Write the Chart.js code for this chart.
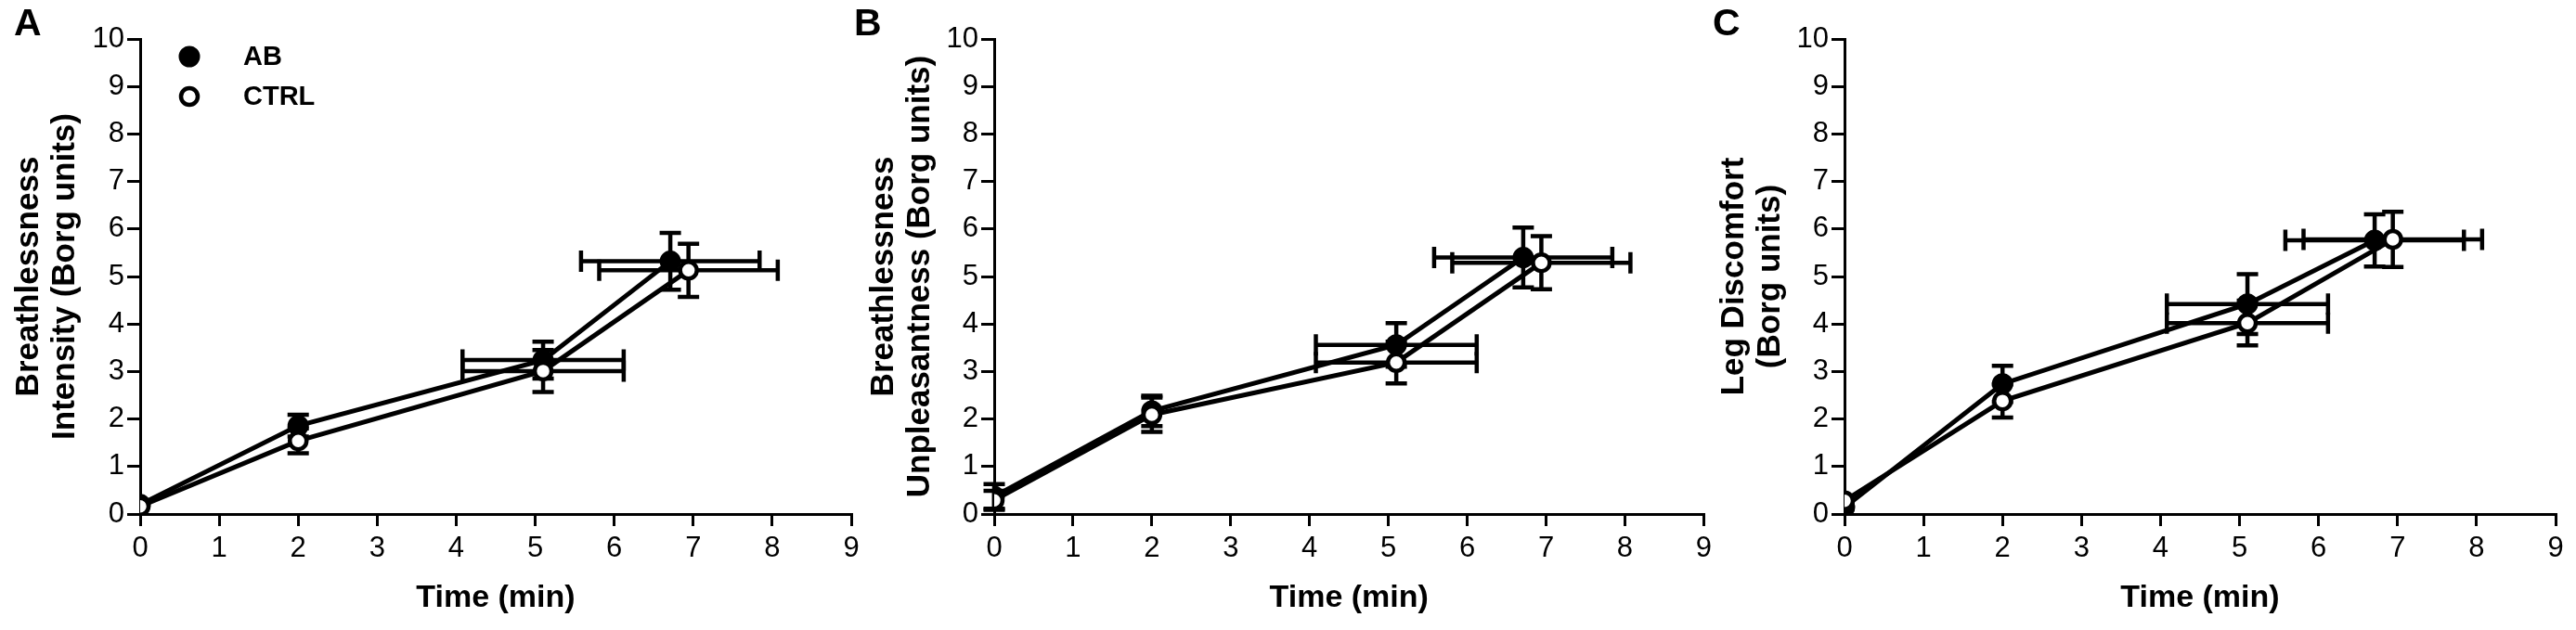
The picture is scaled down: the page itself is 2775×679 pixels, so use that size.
<!DOCTYPE html>
<html>
<head>
<meta charset="utf-8">
<title>Borg ratings</title>
<script src="https://cdn.jsdelivr.net/npm/chart.js@4.4.1/dist/chart.umd.min.js"></script>
<style>
html, body { margin: 0; padding: 0; background: #fff; }
#wrap { position: relative; width: 2775px; height: 679px; overflow: hidden; background: #fff; }
canvas { position: absolute; top: 0; }
</style>
</head>
<body>
<div id="wrap">
  <canvas id="chartA" width="935" height="679" style="left:0px"></canvas>
  <canvas id="chartB" width="935" height="679" style="left:915px"></canvas>
  <canvas id="chartC" width="940" height="679" style="left:1835px"></canvas>
</div>
<script>
// time (min) - same for the 3 panels
const timeAB = [0, 2, 5.1, 6.71];
const timeCTRL = [0, 2, 5.1, 6.94];
const timeSdAB = [0, 0, 1.02, 1.13];
const timeSdCTRL = [0, 0, 1.02, 1.13];

const xTicks = [0, 1, 2, 3, 4, 5, 6, 7, 8, 9];
const yTicks = [0, 1, 2, 3, 4, 5, 6, 7, 8, 9, 10];

// A : breathlessness intensity
const intensityAB = [0.2, 1.86, 3.24, 5.32];
const intensitySdAB = [0, 0.23, 0.39, 0.6];
const intensityCTRL = [0.16, 1.54, 3.01, 5.13];
const intensitySdCTRL = [0, 0.26, 0.44, 0.56];

// B : breathlessness unpleasantness
const unpleasantAB = [0.37, 2.17, 3.56, 5.4];
const unpleasantSdAB = [0.26, 0.32, 0.46, 0.63];
const unpleasantCTRL = [0.29, 2.09, 3.19, 5.29];
const unpleasantSdCTRL = [0.2, 0.36, 0.44, 0.56];

// C : leg discomfort
const legAB = [0.14, 2.74, 4.42, 5.76];
const legSdAB = [0, 0.38, 0.63, 0.55];
const legCTRL = [0.28, 2.38, 4.02, 5.78];
const legSdCTRL = [0, 0.35, 0.47, 0.58];

const FONT = "'Liberation Sans', Arial, Helvetica, sans-serif";

function toPoints(xs, ys) {
    return xs.map((x, i) => ({ x: x, y: ys[i] }));
}

// draws the SD bars (x and y) behind the markers
const errorBars = {
    id: 'errorBars',
    beforeDatasetsDraw(chart) {
        const ctx = chart.ctx;
        const xs = chart.scales.x;
        const ys = chart.scales.y;
        const cap = 11.5;
        ctx.save();
        ctx.strokeStyle = '#000';
        ctx.lineWidth = 4.5;
        ctx.lineCap = 'butt';
        chart.data.datasets.forEach(ds => {
            ds.data.forEach((p, i) => {
                const px = xs.getPixelForValue(p.x);
                const py = ys.getPixelForValue(p.y);
                const sy = ds.errY[i];
                const sx = ds.errX[i];
                if (sy > 0) {
                    const top = ys.getPixelForValue(p.y + sy);
                    const bot = ys.getPixelForValue(p.y - sy);
                    ctx.beginPath();
                    ctx.moveTo(px, top); ctx.lineTo(px, bot);
                    ctx.moveTo(px - cap, top); ctx.lineTo(px + cap, top);
                    ctx.moveTo(px - cap, bot); ctx.lineTo(px + cap, bot);
                    ctx.stroke();
                }
                if (sx > 0) {
                    const l = xs.getPixelForValue(p.x - sx);
                    const r = xs.getPixelForValue(p.x + sx);
                    ctx.beginPath();
                    ctx.moveTo(l, py); ctx.lineTo(r, py);
                    ctx.moveTo(l, py - cap); ctx.lineTo(l, py + cap);
                    ctx.moveTo(r, py - cap); ctx.lineTo(r, py + cap);
                    ctx.stroke();
                }
            });
        });
        ctx.restore();
    }
};

// panel letter + the small legend of panel A
const decor = {
    id: 'decor',
    afterDraw(chart, args, opts) {
        const ctx = chart.ctx;
        ctx.save();
        ctx.fillStyle = '#000';
        ctx.font = 'bold 41px ' + FONT;
        ctx.textAlign = 'left';
        ctx.textBaseline = 'alphabetic';
        ctx.fillText(opts.letter, opts.letterX, 38);
        if (opts.legend) {
            chart.data.datasets.forEach((ds, i) => {
                const cy = 61 + i * 43;
                ctx.beginPath();
                ctx.arc(204, cy, ds.pointRadius, 0, Math.PI * 2);
                ctx.fillStyle = ds.pointBackgroundColor;
                ctx.fill();
                ctx.lineWidth = ds.pointBorderWidth;
                ctx.strokeStyle = '#000';
                ctx.stroke();
                ctx.fillStyle = '#000';
                ctx.font = 'bold 29px ' + FONT;
                ctx.textBaseline = 'middle';
                ctx.fillText(ds.label, 262, cy + 1);
            });
        }
        ctx.restore();
    }
};

function makeChart(id, yAB, sdAB, yCTRL, sdCTRL, yTitle, leftW, rightPad, titlePad, letter, letterX, legend) {
    const ctx = document.getElementById(id);
    return new Chart(ctx, {
        type: 'scatter',
        data: {
            datasets: [
                {
                    label: 'AB',
                    data: toPoints(timeAB, yAB),
                    errX: timeSdAB,
                    errY: sdAB,
                    showLine: true,
                    borderColor: '#000',
                    borderWidth: 5,
                    pointRadius: 10,
                    pointBorderWidth: 3,
                    pointBackgroundColor: '#000',
                    pointBorderColor: '#000',
                    order: 1
                },
                {
                    label: 'CTRL',
                    data: toPoints(timeCTRL, yCTRL),
                    errX: timeSdCTRL,
                    errY: sdCTRL,
                    showLine: true,
                    borderColor: '#000',
                    borderWidth: 5,
                    pointRadius: 9,
                    pointBorderWidth: 4.5,
                    pointBackgroundColor: '#fff',
                    pointBorderColor: '#000',
                    order: 0
                }
            ]
        },
        options: {
            responsive: false,
            devicePixelRatio: 1,
            animation: false,
            layout: { padding: { top: 42, right: rightPad, bottom: 0, left: 0 } },
            plugins: {
                legend: { display: false },
                tooltip: { enabled: false },
                decor: { letter: letter, letterX: letterX, legend: legend }
            },
            scales: {
                x: {
                    type: 'linear',
                    min: 0,
                    max: 9,
                    afterBuildTicks: s => { s.ticks = xTicks.map(v => ({ value: v })); },
                    afterFit: s => { s.height = 125; },
                    ticks: { color: '#000', padding: 6, font: { family: FONT, size: 31 } },
                    grid: { drawOnChartArea: false, drawTicks: true, tickLength: 13, lineWidth: 3, color: '#000' },
                    border: { display: true, color: '#000', width: 3 },
                    title: {
                        display: true,
                        text: 'Time (min)',
                        color: '#000',
                        font: { family: FONT, size: 34, weight: 'bold' },
                        padding: { top: 0, bottom: 14 }
                    }
                },
                y: {
                    type: 'linear',
                    min: 0,
                    max: 10,
                    afterBuildTicks: s => { s.ticks = yTicks.map(v => ({ value: v })); },
                    afterFit: s => { s.width = leftW; },
                    ticks: { color: '#000', padding: 3, font: { family: FONT, size: 31 } },
                    grid: { drawOnChartArea: false, drawTicks: true, tickLength: 14, lineWidth: 3, color: '#000' },
                    border: { display: true, color: '#000', width: 3 },
                    title: {
                        display: true,
                        text: yTitle,
                        color: '#000',
                        font: { family: FONT, size: 35, weight: 'bold', lineHeight: 39 / 35 },
                        padding: { top: titlePad, bottom: 0 }
                    }
                }
            }
        },
        plugins: [errorBars, decor]
    });
}

makeChart('chartA', intensityAB, intensitySdAB, intensityCTRL, intensitySdCTRL,
    ['Breathlessness', 'Intensity (Borg units)'], 151, 18, 11.5, 'A', 15, true);
makeChart('chartB', unpleasantAB, unpleasantSdAB, unpleasantCTRL, unpleasantSdCTRL,
    ['Breathlessness', 'Unpleasantness (Borg units)'], 156, 13, 17.5, 'B', 5, false);
makeChart('chartC', legAB, legSdAB, legCTRL, legSdCTRL,
    ['Leg Discomfort', '(Borg units)'], 152, 22, 13.5, 'C', 10, false);
</script>
</body>
</html>
